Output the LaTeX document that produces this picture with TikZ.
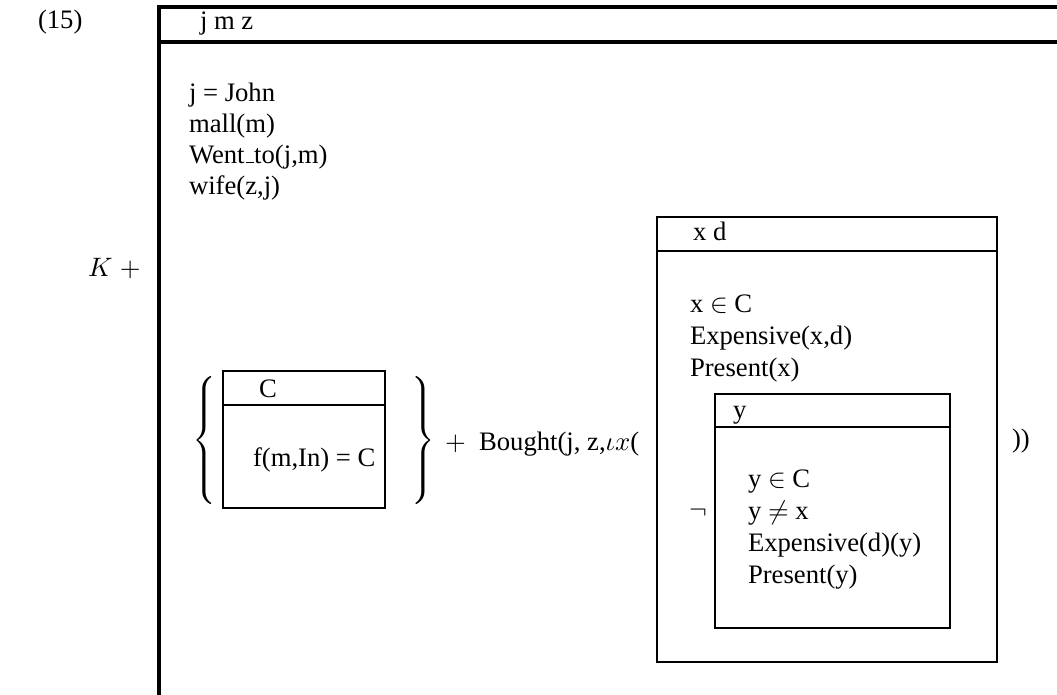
\documentclass[tikz,border=0pt]{standalone}
\usepackage[no-math]{fontspec}
\setmainfont{Liberation Serif}
\begin{document}
\begin{tikzpicture}[x=0.375pt, y=-0.375pt,
  txt/.style={anchor=base west, inner sep=0pt, outer sep=0pt},
  outerline/.style={line width=1.15pt},
  boxline/.style={line width=0.85pt}]
\useasboundingbox (0,0) rectangle (1057,694);

% example number
\node[txt] (num) at (38,28) {(15)};

% main box, open to the right and at the bottom
\draw[outerline] (159,700) -- (159,7) -- (1070,7);
\draw[outerline] (159,42) -- (1070,42);
\node[txt] (univ) at (200,29) {j m z};
\node[txt] (c1) at (189,101) {j = John};
\node[txt] (c2) at (189,132) {mall(m)};
\node[txt] (c3) at (189,163) {Went\kern.06em\rule{.3em}{.4pt}to(j,m)};
\node[txt] (c4) at (189,194) {wife(z,j)};

% K +
\node[txt] (kplus) at (88,276) {$K\;+$};

% set of the C box
\node[inner sep=0pt] (lbrace) at (206,440) {$\left\{\vcenter{\hbox{\rule{0pt}{50pt}}}\right.$};
\draw[boxline] (223,371) rectangle (385,508);
\draw[boxline] (223,405) -- (385,405);
\node[txt] (cu) at (259,397) {C};
\node[txt] (cc) at (253,466) {f(m,In) = C};
\node[inner sep=0pt] (rbrace) at (422,440) {$\left.\vcenter{\hbox{\rule{0pt}{50pt}}}\right\}$};

% condition
\node[txt] (bought) at (445,450) {$+$~ Bought(j, z,$\iota x$(};

% x d box
\draw[boxline] (657,217) rectangle (997,662);
\draw[boxline] (657,251) -- (997,251);
\node[txt] (xu) at (693,240) {x d};
\node[txt] (x1) at (690,312) {x $\in$ C};
\node[txt] (x2) at (690,344) {Expensive(x,d)};
\node[txt] (x3) at (690,376) {Present(x)};

% negated y box
\node[inner sep=0pt] (neg) at (698,513) {$\neg$};
\draw[boxline] (715,394) rectangle (950,628);
\draw[boxline] (715,427) -- (950,427);
\node[txt] (yu) at (733,418) {y};
\node[txt] (y1) at (748,487) {y $\in$ C};
\node[txt] (y2) at (748,519) {y $\neq$ x};
\node[txt] (y3) at (748,551) {Expensive(d)(y)};
\node[txt] (y4) at (748,583) {Present(y)};

\node[txt] (close) at (1012,447) {))};
\end{tikzpicture}
\end{document}
